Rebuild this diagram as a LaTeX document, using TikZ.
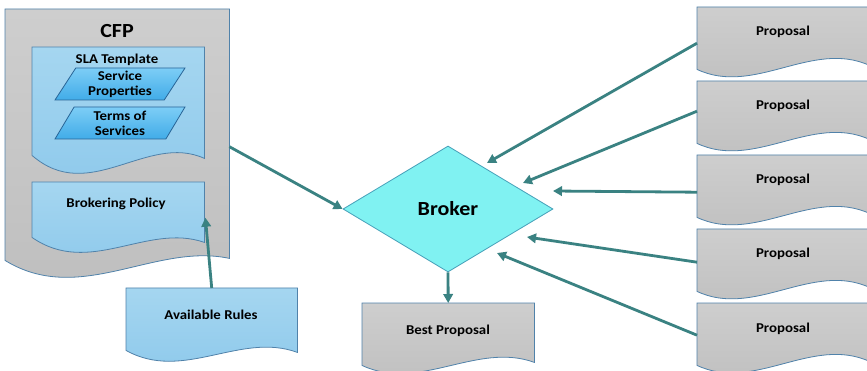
\documentclass[tikz,border=0pt]{standalone}
\usepackage{fontspec}
\setmainfont{Carlito}[FakeStretch=1.1]
\usetikzlibrary{shapes.geometric,arrows.meta,calc,backgrounds}
\definecolor{docgrayT}{RGB}{206,206,206}
\definecolor{docgrayB}{RGB}{190,190,190}
\definecolor{docblueT}{RGB}{165,214,240}
\definecolor{docblueB}{RGB}{140,200,235}
\definecolor{docedge}{RGB}{80,130,170}
\definecolor{parT}{RGB}{125,205,246}
\definecolor{parB}{RGB}{65,172,232}
\definecolor{paredge}{RGB}{40,100,150}
\definecolor{brokerfill}{RGB}{128,242,242}
\definecolor{brokeredge}{RGB}{70,160,185}
\definecolor{arrowc}{RGB}{58,130,130}
\newcommand\docwave[4]{(#1.north west) -- (#1.north east) -- ($(#1.south east)+(0,#4)$) .. controls ($(#1.south west)!0.6667!(#1.south east)+(0,#3)$) and ($(#1.south west)!0.3333!(#1.south east)+(0,#2)$) .. (#1.south west) -- cycle}
\tikzset{
  doc/.style={draw=none, fill=none, inner sep=0pt, anchor=north west},
  grayfill/.style={draw=docedge, line width=0.8pt, top color=docgrayT, bottom color=docgrayB},
  bluefill/.style={draw=docedge, line width=0.8pt, top color=docblueT, bottom color=docblueB},
  lbl/.style={font=\bfseries\fontsize{13.5}{16}\selectfont, inner sep=0pt, anchor=base},
  para/.style={trapezium, trapezium left angle=52, trapezium right angle=128, trapezium stretches body=true,
    minimum width=130pt, minimum height=32pt, inner sep=0pt, draw=paredge, line width=0.8pt,
    top color=parT, bottom color=parB, align=center, font=\bfseries\fontsize{13.5}{16}\selectfont},
  arr/.style={draw=arrowc, line width=2.8pt, -{Triangle[length=9pt,width=9.5pt]}},
}
\begin{document}
\begin{tikzpicture}[x=1pt,y=-1pt]
\useasboundingbox (0,0) rectangle (867,371);
% document nodes
\node[doc, minimum width=224pt, minimum height=251pt] (cfp) at (5,9) {};
\node[doc, minimum width=172pt, minimum height=108pt] (sla) at (32,47) {};
\node[doc, minimum width=172pt, minimum height=55pt] (brk) at (32,182) {};
\node[doc, minimum width=171pt, minimum height=62pt] (avail) at (126,288) {};
\node[doc, minimum width=172pt, minimum height=62pt] (best) at (362,303) {};
\node[doc, minimum width=172pt, minimum height=62pt] (p1) at (697,7) {};
\node[doc, minimum width=172pt, minimum height=62pt] (p2) at (697,81) {};
\node[doc, minimum width=172pt, minimum height=62pt] (p3) at (697,155) {};
\node[doc, minimum width=172pt, minimum height=62pt] (p4) at (697,229) {};
\node[doc, minimum width=172pt, minimum height=62pt] (p5) at (697,303) {};
\begin{scope}[on background layer]
  \fill[white] (0,0) rectangle (867,371);
  \path[grayfill] \docwave{cfp}{46}{-18}{-2};
  \path[bluefill] \docwave{sla}{50}{-23}{3};
  \path[bluefill] \docwave{brk}{40}{-15}{5};
  \path[bluefill] \docwave{avail}{32}{-19}{2};
  \path[grayfill] \docwave{best}{27}{-24}{-3};
  \path[grayfill] \docwave{p1}{27}{-30}{-4};
  \path[grayfill] \docwave{p2}{27}{-30}{-4};
  \path[grayfill] \docwave{p3}{27}{-30}{-4};
  \path[grayfill] \docwave{p4}{27}{-30}{-4};
  \path[grayfill] \docwave{p5}{27}{-30}{-4};
\end{scope}
% texts
\node[lbl, font=\bfseries\fontsize{20}{24}\selectfont] (cfpt) at (117,38) {CFP};
\node[lbl] (slat) at (117,64) {SLA Template};
\node[para] (par1) at (120,84) {Service\\[-1pt]Properties};
\node[para] (par2) at (120,123) {Terms of\\[-1pt]Services};
\node[lbl] (brkt) at (116,208) {Brokering Policy};
\node[lbl] (availt) at (211,319) {Available Rules};
\node[lbl] (bestt) at (448,334) {Best Proposal};
\node[lbl] (p1t) at (783,36) {Proposal};
\node[lbl] (p2t) at (783,110) {Proposal};
\node[lbl] (p3t) at (783,184) {Proposal};
\node[lbl] (p4t) at (783,258) {Proposal};
\node[lbl] (p5t) at (783,332) {Proposal};
% broker
\node[diamond, aspect=1.667, minimum width=210pt, minimum height=126pt, inner sep=0pt,
  fill=brokerfill, draw=brokeredge, line width=0.8pt,
  font=\bfseries\fontsize{20}{24}\selectfont] (broker) at (448,209) {Broker};
% arrow targets
\coordinate (t1) at ($(broker.center)+(39,-46)$);
\coordinate (t2) at ($(broker.center)+(75,-26)$);
\coordinate (t3) at ($(broker.center)+(105,-18)$);
\coordinate (t4) at ($(broker.center)+(79,28)$);
\coordinate (t5) at ($(broker.center)+(49,44)$);
\coordinate (tb) at ($(brk.east)+(1,8)$);
% connectors
\draw[arr] ($(cfp.east)+(0,12)$) -- (broker.west);
\draw[arr] (avail.north) -- (tb);
\draw[arr] (broker.south) -- (best.north);
\draw[arr] ($(p1.west)+(0,5)$) -- (t1);
\draw[arr] ($(p2.west)+(0,-1)$) -- (t2);
\draw[arr] ($(p3.west)+(0,6)$) -- (t3);
\draw[arr] ($(p4.west)+(0,2)$) -- (t4);
\draw[arr] ($(p5.west)+(0,1)$) -- (t5);
\end{tikzpicture}
\end{document}
